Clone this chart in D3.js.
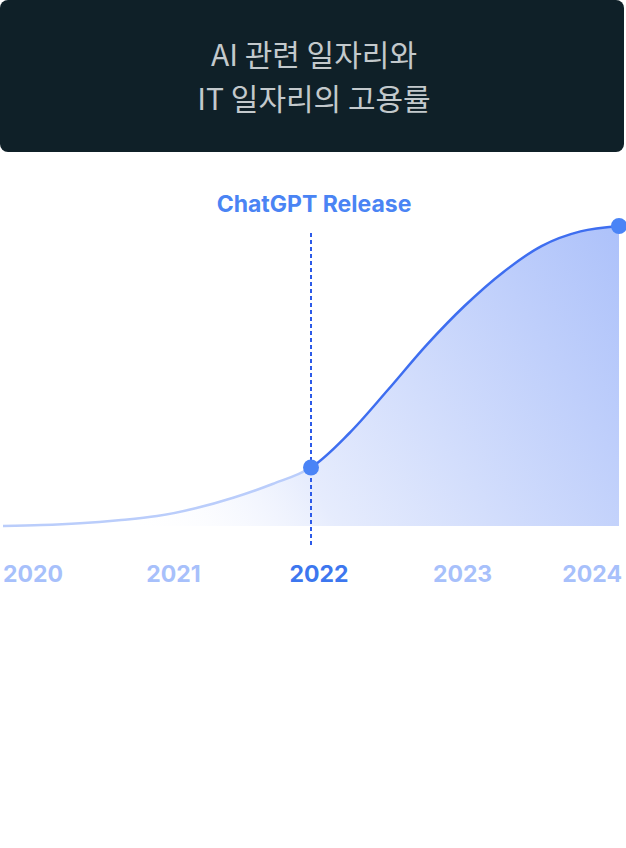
<!DOCTYPE html>
<html>
<head>
<meta charset="utf-8">
<script src="https://cdn.jsdelivr.net/npm/d3@7"></script>
<style>
  html, body { margin: 0; padding: 0; background: #ffffff; }
  #chart-one { width: 626px; height: 848px; }
</style>
</head>
<body>
<div id="chart-one"></div>
<script>
// Datos
let titleLines = ['AI 관련 일자리와', 'IT 일자리의 고용률'];
let years = [2020, 2021, 2022, 2023, 2024];
let highlightYear = 2022;
let releaseLabel = 'ChatGPT Release';
// serie (puntos trimestrales, 2024 = 100)
let seriesX = [2020, 2020.25, 2020.5, 2020.75, 2021, 2021.25, 2021.5, 2021.75, 2022,
               2022.25, 2022.5, 2022.75, 2023, 2023.25, 2023.5, 2023.75, 2024];
let seriesY = [0, 0.3, 0.9, 1.9, 3.3, 5.9, 9.5, 14.0, 19.5,
               31, 45.4, 60.3, 73.5, 84.7, 93.4, 98.2, 100];
let markerYears = [2022, 2024];

let data = seriesX.map(function(d, i) { return {x: d, y: seriesY[i]}; });

let svg = d3.select('#chart-one')
    .append('svg')
    .attr('width', 626)
    .attr('height', 848);

//Bloque del título
let head = svg.append('g');
head.append('rect')
    .attr('x', 0).attr('y', 0)
    .attr('width', 624).attr('height', 152)
    .attr('rx', 8)
    .style('fill', '#0f2028');

head.selectAll('text')
    .data(titleLines)
    .enter()
    .append('text')
    .attr('x', 314)
    .attr('y', function(d, i) { return 66 + i * 44; })
    .attr('text-anchor', 'middle')
    .style('font-family', '"Noto Sans CJK KR", "Noto Sans", sans-serif')
    .style('font-weight', 400)
    .style('font-size', '30px')
    .style('fill', '#c3c9cc')
    .text(function(d) { return d; });

//Escalas
let x = d3.scaleLinear()
    .domain([2020, 2024])
    .range([3, 619]);

let y = d3.scaleLinear()
    .domain([0, 100])
    .range([526, 226]);

//Gradiente del área
let defs = svg.append('defs');
let grad = defs.append('linearGradient')
    .attr('id', 'areaGrad')
    .attr('gradientUnits', 'userSpaceOnUse')
    .attr('x1', 150).attr('y1', 560)
    .attr('x2', 650).attr('y2', 250);
grad.append('stop').attr('offset', '0%').attr('stop-color', '#ffffff').attr('stop-opacity', 0);
grad.append('stop').attr('offset', '30%').attr('stop-color', '#e6ecfd').attr('stop-opacity', 1);
grad.append('stop').attr('offset', '100%').attr('stop-color', '#abc0fa').attr('stop-opacity', 1);

defs.append('clipPath').attr('id', 'clipLeft')
    .append('rect')
    .attr('x', 0).attr('y', 0)
    .attr('width', x(highlightYear)).attr('height', 848);

defs.append('clipPath').attr('id', 'clipRight')
    .append('rect')
    .attr('x', x(highlightYear)).attr('y', 0)
    .attr('width', 626 - x(highlightYear)).attr('height', 848);

let curve = d3.curveCatmullRom.alpha(0.5);

let area = d3.area()
    .x(function(d) { return x(d.x); })
    .y0(y(0))
    .y1(function(d) { return y(d.y); })
    .curve(curve);

let line = d3.line()
    .x(function(d) { return x(d.x); })
    .y(function(d) { return y(d.y); })
    .curve(curve);

let chart = svg.append('g');

chart.append('path')
    .datum(data)
    .attr('d', area)
    .style('fill', 'url(#areaGrad)');

//Línea antes y después del lanzamiento
chart.append('path')
    .datum(data)
    .attr('d', line)
    .attr('clip-path', 'url(#clipLeft)')
    .style('fill', 'none')
    .style('stroke', '#bacdfb')
    .style('stroke-width', 2.5);

chart.append('path')
    .datum(data)
    .attr('d', line)
    .attr('clip-path', 'url(#clipRight)')
    .style('fill', 'none')
    .style('stroke', '#3e6ef0')
    .style('stroke-width', 2.5);

//Línea vertical punteada
chart.append('line')
    .attr('x1', x(highlightYear)).attr('x2', x(highlightYear))
    .attr('y1', 233).attr('y2', 548)
    .style('stroke', '#2c5ae8')
    .style('stroke-width', 2)
    .style('stroke-dasharray', '4 3');

chart.append('text')
    .attr('x', x(highlightYear) + 3)
    .attr('y', 212)
    .attr('text-anchor', 'middle')
    .style('font-family', 'Inter, "Noto Sans", sans-serif')
    .style('font-weight', 700)
    .style('font-size', '23px')
    .style('fill', '#4a84f4')
    .text(releaseLabel);

//Puntos
chart.selectAll('.dot')
    .data(data.filter(function(d) { return markerYears.indexOf(d.x) > -1; }))
    .enter()
    .append('circle')
    .attr('class', 'dot')
    .attr('cx', function(d) { return x(d.x); })
    .attr('cy', function(d) { return y(d.y); })
    .attr('r', 8)
    .style('fill', '#4a84f6');

//Etiquetas de años: paso fijo, la última pegada al borde derecho
let labels = chart.selectAll('.year')
    .data(years)
    .enter()
    .append('text')
    .attr('class', 'year')
    .attr('y', 582)
    .style('font-family', 'Inter, "Noto Sans", sans-serif')
    .style('font-weight', 700)
    .style('font-size', '23px')
    .style('fill', function(d) { return d == highlightYear ? '#3d77ef' : '#a7c0fb'; })
    .text(function(d) { return d; });

let step = 143.3, right = 622;
labels.attr('x', function(d, i) {
    let w = this.getComputedTextLength();
    return Math.min(3 + i * step, right - w);
});
</script>
</body>
</html>
